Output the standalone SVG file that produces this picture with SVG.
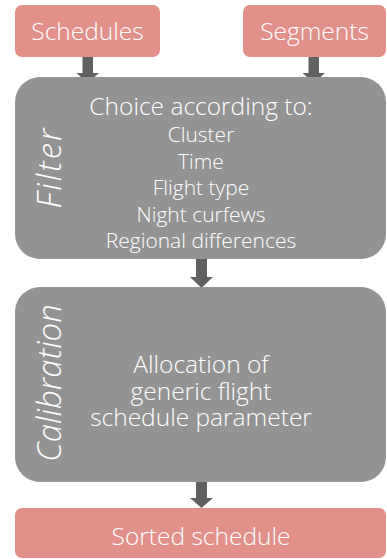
<svg xmlns="http://www.w3.org/2000/svg" width="387" height="559" viewBox="0 0 387 559">
<style>
.io{fill:#e2918a}
.proc{fill:#939393}
.arr{fill:#606060}
text{font-family:"Open Sans","DejaVu Sans",sans-serif;font-weight:300;fill:#ffffff;text-anchor:middle}
.t20{font-size:24.5px}
.t16{font-size:21px}
.side{font-size:33px;font-style:italic}
</style>
<rect width="387" height="559" fill="#ffffff"/>
<g id="connectors">
<path class="arr" d="M82.5,57 H93 V73 H99 L87.75,83 L76.5,73 H82.5 Z"/>
<path class="arr" d="M308.5,57 H319 V73 H325 L313.75,83 L302.5,73 H308.5 Z"/>
<path class="arr" d="M196,259 H207 V277 H213 L201.5,288 L190,277 H196 Z"/>
<path class="arr" d="M196,482 H207 V498 H213 L201.5,508 L190,498 H196 Z"/>
</g>
<g id="schedules">
<rect class="io" x="15" y="5" width="145" height="52" rx="7"/>
<text class="t20" x="87.5" y="40">Schedules</text>
</g>
<g id="segments">
<rect class="io" x="243" y="5" width="143" height="52" rx="7"/>
<text class="t20" x="314.5" y="40">Segments</text>
</g>
<g id="filter">
<rect class="proc" x="15" y="77" width="371" height="182" rx="25"/>
<text class="side" transform="translate(61,167.5) rotate(-90)" letter-spacing="2">Filter</text>
<text class="t20" x="201" y="115">Choice according to:</text>
<text class="t16" x="201" y="142">Cluster</text>
<text class="t16" x="201" y="168.5">Time</text>
<text class="t16" x="201" y="195">Flight type</text>
<text class="t16" x="201" y="221.5">Night curfews</text>
<text class="t16" x="201" y="248">Regional differences</text>
</g>
<g id="calibration">
<rect class="proc" x="15" y="287" width="371" height="195" rx="25"/>
<text class="side" transform="translate(61,383) rotate(-90)">Calibration</text>
<text class="t20" x="201" y="373">Allocation of</text>
<text class="t20" x="201" y="399.5">generic flight</text>
<text class="t20" x="201" y="426">schedule parameter</text>
</g>
<g id="sorted">
<rect class="io" x="15" y="508" width="371" height="50" rx="7"/>
<text class="t20" x="201" y="545">Sorted schedule</text>
</g>
</svg>
